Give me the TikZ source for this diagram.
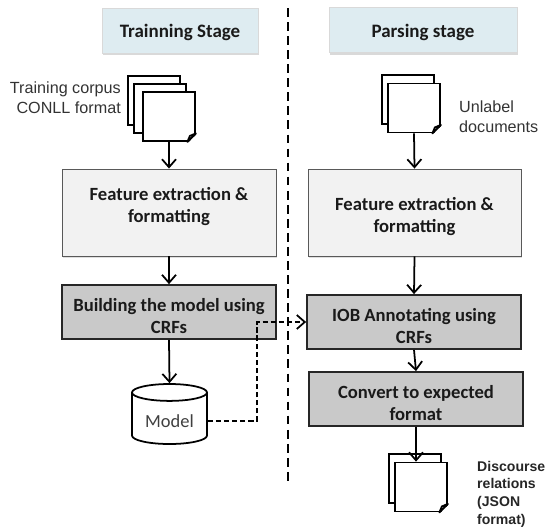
\documentclass[tikz,border=0pt]{standalone}
\usepackage{fontspec}
\setmainfont{Carlito}
\newfontfamily\arialfont{Liberation Sans}
\usepackage{xcolor}
\usepackage{tikz}
\usetikzlibrary{arrows.meta,shapes.geometric,shadows}

\definecolor{stageblue}{HTML}{DEECF1}
\definecolor{featgray}{HTML}{F2F2F2}
\definecolor{stepgray}{HTML}{C9C9C9}
\definecolor{txtdark}{HTML}{1A1A1A}

\tikzset{
    flowarrow/.style={draw=black,line width=1pt,-{Straight Barb[length=1.6mm,width=2.8mm]}},
    lowertext/.style={execute at begin node={\rule{0pt}{#1}}},
    stagebox/.style={draw=black!15,fill=stageblue,minimum height=0.9cm,lowertext=10pt,font=\bfseries\fontsize{10.8}{12}\selectfont,text=txtdark,
        drop shadow={shadow xshift=0.2mm,shadow yshift=-0.4mm,opacity=0.3}},
    featbox/.style={draw=black!65,line width=0.5pt,fill=featgray,minimum height=1.74cm,align=center,lowertext=25pt,font=\bfseries\fontsize{10.6}{12.5}\selectfont,text=txtdark,
        drop shadow={shadow xshift=0.1mm,shadow yshift=-0.3mm,opacity=0.25}},
    stepbox/.style={draw=black!85,line width=1pt,fill=stepgray,minimum height=1cm,align=center,lowertext=24pt,font=\bfseries\fontsize{10.6}{12.5}\selectfont,text=txtdark},
    docpage/.style={draw=black,line width=1pt,fill=white,minimum width=1.04cm,minimum height=0.98cm,inner sep=0pt},
    sidetext/.style={font=\arialfont\fontsize{9.2}{11.4}\selectfont,text=black!80},
}

% little folded corner at the bottom right of a page
\newcommand{\foldcorner}[1]{
    \fill[white] ([xshift=-0.17cm,yshift=-0.03cm]#1.south east) -- ([xshift=0.03cm,yshift=-0.03cm]#1.south east) -- ([xshift=0.03cm,yshift=0.17cm]#1.south east) -- cycle;
    \draw[line width=1pt,line join=round,fill=white] ([xshift=-0.17cm]#1.south east) -- ([yshift=0.17cm]#1.south east) -- ([xshift=-0.12cm,yshift=0.12cm]#1.south east) -- cycle;
}

\begin{document}
\begin{tikzpicture}
    \useasboundingbox (0,0) rectangle (10.92,10.58);

    \node[stagebox,minimum width=3.12cm] (stageTrain) at (3.6,9.97) {Trainning Stage};
    \node[stagebox,minimum width=3.76cm] (stageParse) at (8.46,9.98) {Parsing stage};

    % separation between the two stages
    \coordinate (sepTop) at (5.76,10.42);
    \coordinate (sepBot) at (5.76,0.96);
    \draw[line width=1.3pt,dash pattern=on 5pt off 3pt] (sepTop) -- (sepBot);

    % left column
    \node[docpage] (corpusA) at (3.08,8.57) {};
    \node[docpage] (corpusB) at (3.2,8.41) {};
    \node[docpage] (corpusC) at (3.38,8.25) {};
    \foldcorner{corpusC}
    \node[sidetext,anchor=east,align=right] (corpusTxt) at (2.54,8.62) {Training corpus\\CONLL format};

    \node[featbox,minimum width=4.28cm] (featTrain) at (3.38,6.33) {Feature extraction \&\\formatting\\[-3.5pt]~};
    \node[stepbox,minimum width=4.28cm] (buildModel) at (3.38,4.34) {Building the model using\\CRFs};
    \node[cylinder,shape border rotate=90,aspect=0.28,anchor=shape center,draw=black,line width=1pt,fill=white,minimum width=1.5cm,minimum height=1.2cm,
        font=\fontsize{10.5}{12}\selectfont] (model) at (3.39,2.3) {\textcolor{black!75}{Model}};

    % right column
    \node[docpage] (unlabA) at (8.16,8.59) {};
    \node[docpage] (unlabB) at (8.28,8.42) {};
    \foldcorner{unlabB}
    \node[sidetext,anchor=west,align=left] (unlabTxt) at (9.06,8.24) {Unlabel\\documents};

    \node[featbox,minimum width=4.26cm] (featParse) at (8.29,6.33) {Feature extraction \&\\formatting};
    \node[stepbox,minimum width=4.28cm] (iobStep) at (8.28,4.14) {IOB Annotating using\\CRFs};
    \node[stepbox,minimum width=4.28cm] (convStep) at (8.32,2.6) {Convert to expected\\format};

    \node[docpage] (relA) at (8.3,1.01) {};
    \node[docpage] (relB) at (8.42,0.84) {};
    \foldcorner{relB}
    \node[anchor=west,align=left,font=\arialfont\bfseries\fontsize{8}{10}\selectfont,text=black!85] (relTxt) at (9.42,0.7) {Discourse\\relations\\(JSON\\format)};

    % arrows
    \draw[flowarrow] (corpusC.south) -- (featTrain.north);
    \draw[flowarrow] (featTrain.south) -- (buildModel.north);
    \draw[flowarrow] (buildModel.south) -- (model.north);
    \draw[flowarrow] (unlabB.south) -- (featParse.north);
    \draw[flowarrow] (featParse.south) -- (iobStep.north);
    \draw[flowarrow] (iobStep.south) -- (convStep.north);
    \draw[flowarrow] (convStep.south) -- (convStep.south |- relB.north);

    % model used while parsing
    \coordinate (turn) at (5.14,4.14);
    \draw[flowarrow,dash pattern=on 3pt off 1.6pt] (model.east) -| (turn) -- (iobStep.west);
\end{tikzpicture}
\end{document}
